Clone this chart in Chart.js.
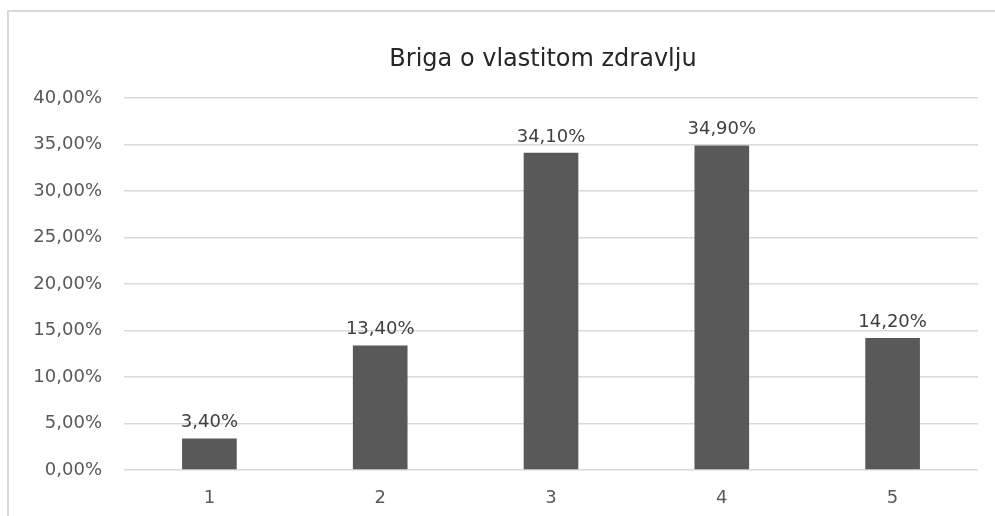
<!DOCTYPE html>
<html>
<head>
<meta charset="utf-8">
<script src="https://cdn.jsdelivr.net/npm/chart.js@4.4.1/dist/chart.umd.min.js"></script>
<style>
  html, body { margin: 0; padding: 0; background: #fff; }
  #wrap { width: 995px; height: 516px; position: relative; }
</style>
</head>
<body>
<div id="wrap"><canvas id="chart"></canvas></div>
<script>
// data
const categories = ['1', '2', '3', '4', '5'];
const values = [3.4, 13.4, 34.1, 34.9, 14.2];
const chartTitle = 'Briga o vlastitom zdravlju';
const yMax = 40;
const yStep = 5;

const fmt = v => v.toFixed(2).replace('.', ',') + '%';
const FONT = '"DejaVu Sans"';

// thin frame on the left and top like the cropped excel box, plus the title
// (title is centred on the whole chart box, which runs past the right edge)
const framePlugin = {
    id: 'frame',
    beforeDraw(chart) {
        const ctx = chart.ctx;
        ctx.save();
        ctx.strokeStyle = '#d9d9d9';
        ctx.lineWidth = 2;
        ctx.beginPath();
        ctx.moveTo(8, chart.height);
        ctx.lineTo(8, 11);
        ctx.lineTo(chart.width, 11);
        ctx.stroke();
        ctx.font = '24px ' + FONT;
        ctx.fillStyle = '#262626';
        ctx.textAlign = 'center';
        ctx.textBaseline = 'middle';
        ctx.fillText(chartTitle, 543, 60);
        ctx.restore();
    }
};

// value labels above each bar
const valueLabels = {
    id: 'valueLabels',
    afterDatasetsDraw(chart) {
        const ctx = chart.ctx;
        const meta = chart.getDatasetMeta(0);
        ctx.save();
        ctx.font = '18px ' + FONT;
        ctx.fillStyle = '#404040';
        ctx.textAlign = 'center';
        ctx.textBaseline = 'bottom';
        meta.data.forEach((bar, i) => {
            ctx.fillText(fmt(values[i]), bar.x, bar.y - 7);
        });
        ctx.restore();
    }
};

new Chart(document.getElementById('chart'), {
    type: 'bar',
    data: {
        labels: categories,
        datasets: [{
            data: values,
            backgroundColor: '#595959',
            borderWidth: 0,
            categoryPercentage: 1,
            barPercentage: 0.32
        }]
    },
    options: {
        responsive: true,
        maintainAspectRatio: false,
        animation: false,
        layout: {
            padding: {left: 20, right: 17, top: 98, bottom: 0}
        },
        plugins: {
            legend: {display: false},
            tooltip: {enabled: false},
            title: {display: false}
        },
        scales: {
            x: {
                afterFit(scale) { scale.height = 46; },
                grid: {display: false},
                border: {display: false},
                ticks: {
                    color: '#595959',
                    font: {family: FONT, size: 18},
                    padding: 10
                }
            },
            y: {
                min: 0,
                max: yMax,
                afterFit(scale) { scale.width = 104; },
                grid: {color: '#d9d9d9', lineWidth: 1.5, drawTicks: false},
                border: {display: false},
                ticks: {
                    stepSize: yStep,
                    color: '#595959',
                    font: {family: FONT, size: 18},
                    padding: 22,
                    callback: v => fmt(v)
                }
            }
        }
    },
    plugins: [framePlugin, valueLabels]
});
</script>
</body>
</html>
